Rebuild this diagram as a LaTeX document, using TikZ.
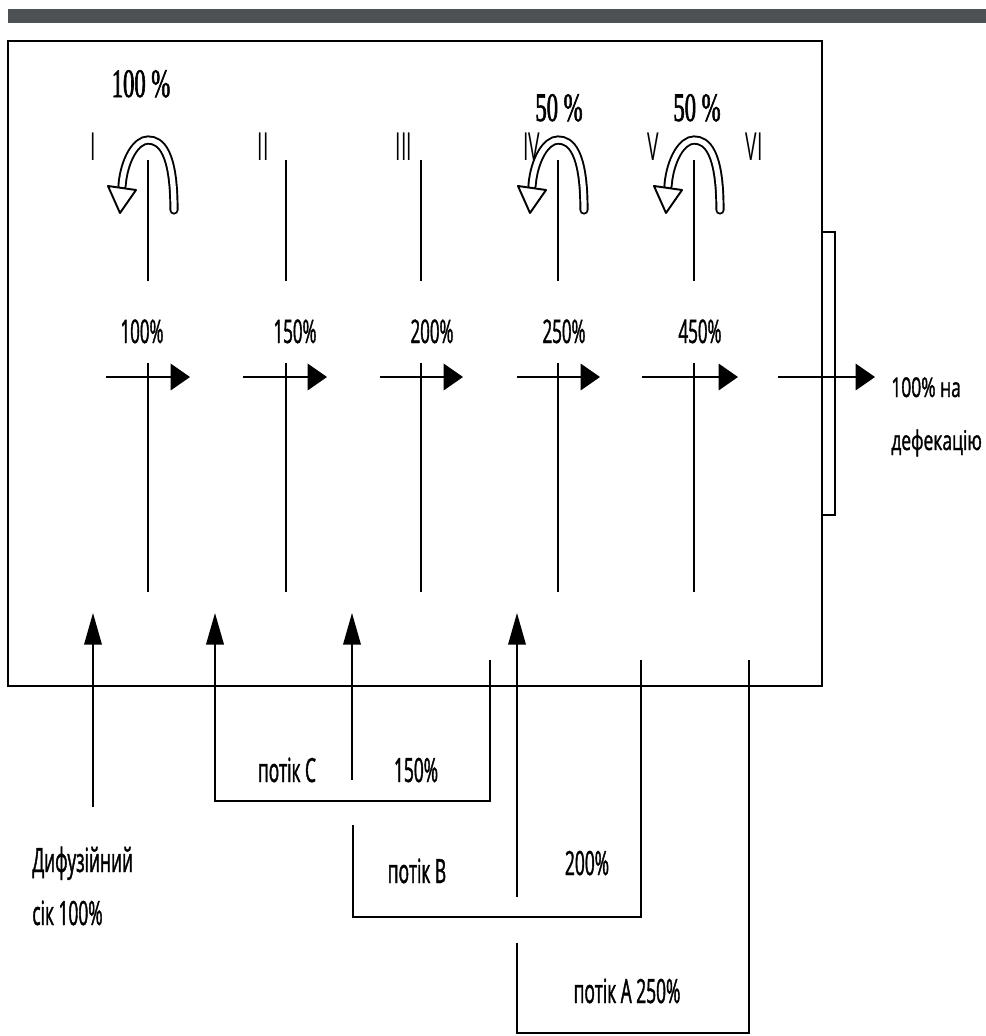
\documentclass[tikz,border=0pt]{standalone}
\usepackage{fontspec}
\setmainfont{Open Sans}
\newfontfamily\narrowsans[FakeStretch=0.52,FakeBold=1.2]{Open Sans}
\newfontfamily\thinsans[FakeStretch=0.5]{Open Sans}
\newfontfamily\sidesans[FakeStretch=0.64,FakeBold=1.2]{Open Sans}
\newfontfamily\oldserif[FakeStretch=0.56,FakeBold=1.5]{Liberation Serif}
\usetikzlibrary{arrows.meta}
\definecolor{bargray}{HTML}{4C5156}

\tikzset{
  wall/.style={line width=1.4pt},
  stageline/.style={line width=0.9pt},
  flow/.style={line width=1.3pt,-{Triangle[length=11pt,width=15pt]}},
  feed/.style={line width=1pt,-{Triangle[length=18pt,width=10pt]}},
  pipe/.style={line width=1.2pt},
  turn/.style={line width=1.1pt,double=white,double distance=3pt,line cap=round},
  lbl/.style={font=\narrowsans\fontsize{18.5}{20}\selectfont,anchor=base,inner sep=0pt},
  roman/.style={font=\thinsans\fontsize{22}{24}\selectfont,anchor=base,inner sep=0pt},
  pct/.style={font=\oldserif\fontsize{23}{25}\selectfont,anchor=base,inner sep=0pt},
  side/.style={font=\sidesans\fontsize{15.5}{17}\selectfont,anchor=base west,inner sep=0pt},
  low/.style={font=\narrowsans\fontsize{19}{21}\selectfont,anchor=base,inner sep=0pt},
}

\begin{document}
\begin{tikzpicture}[x=0.02cm, y=-0.02cm]
  \useasboundingbox (0,0) rectangle (986,1036);
  \fill[bargray] (8,9) rectangle (986,23);

  % Apparatus
  \draw[wall] (8,41) rectangle (822,686);
  \draw[wall] (822,232) -- (835,232) -- (835,515) -- (822,515);

  % Stages
  \foreach \n/\x in {1/148,2/286,3/421,4/558,5/694}{
    \coordinate (up\n) at (\x,160);
    \coordinate (cut\n) at (\x,281);
    \coordinate (mid\n) at (\x,363);
    \coordinate (low\n) at (\x,592);
    \draw[stageline] (up\n) -- (cut\n);
    \draw[stageline] (mid\n) -- (low\n);
  }
  \foreach \n/\x/\t in {1/93/I,2/263/II,3/404/III,4/532/IV,5/653/V,6/754/VI}
    \node[roman] (rom\n) at (\x,160) {\t};
  \foreach \n/\x/\t in {1/142/100\%,2/295/150\%,3/432/200\%,4/564/250\%,5/700/450\%}
    \node[lbl] (stage\n) at (\x,343) {\t};

  % Flow through the stages
  \foreach \a/\b in {106/190,243/327,380/463,517/600,642/738,778/875}
    \draw[flow] (\a,377) -- (\b,377);

  % Recycling loops
  \foreach \c in {148,558,694}{
    \draw[turn] (\c+26,210) .. controls (\c+26,152) and (\c+13,140) .. (\c,140)
      .. controls (\c-12,140) and (\c-24,160) .. (\c-26,186);
    \draw[line width=1.1pt,fill=white,line join=round] (\c-40,186) -- (\c-12,190) -- (\c-28,213) -- cycle;
  }
  \node[pct] (back1) at (141,97) {100 \%};
  \node[pct] (back4) at (559,121) {50 \%};
  \node[pct] (back5) at (697,121) {50 \%};

  % Output
  \node[side] (out1) at (891,397) {100\% на};
  \node[side] (out2) at (891,450) {дефекацію};

  % Inlets
  \coordinate (dIn) at (93,807);
  \coordinate (dOut) at (93,613);
  \draw[feed] (dIn) -- (dOut);

  \coordinate (cStart) at (490,660);
  \coordinate (cBot) at (215,801);
  \coordinate (cOut) at (215,613);
  \draw[feed,line width=1.2pt] (cStart) |- (cBot) -- (cOut);
  \coordinate (bIn) at (352,780);
  \coordinate (bOut) at (352,613);
  \draw[feed] (bIn) -- (bOut);

  \coordinate (bStart) at (641,660);
  \coordinate (bBot) at (353,917);
  \coordinate (bEnd) at (353,825);
  \draw[pipe] (bStart) |- (bBot) -- (bEnd);
  \coordinate (aIn) at (517,897);
  \coordinate (aOut) at (517,613);
  \draw[feed] (aIn) -- (aOut);

  \coordinate (aStart) at (749,660);
  \coordinate (aBot) at (517,1033);
  \coordinate (aEnd) at (517,943);
  \draw[pipe] (aStart) |- (aBot) -- (aEnd);

  % Labels below
  \node[low,anchor=base west] (juice1) at (32,872) {Дифузійний};
  \node[low,anchor=base west] (juice2) at (32,925) {сік 100\%};
  \node[low] (flowC) at (287,782) {потік С};
  \node[low] (pctC) at (416,782) {150\%};
  \node[low] (flowB) at (417,883) {потік В};
  \node[low] (pctB) at (587,875) {200\%};
  \node[low] (flowA) at (627,1003) {потік А 250\%};
\end{tikzpicture}
\end{document}
